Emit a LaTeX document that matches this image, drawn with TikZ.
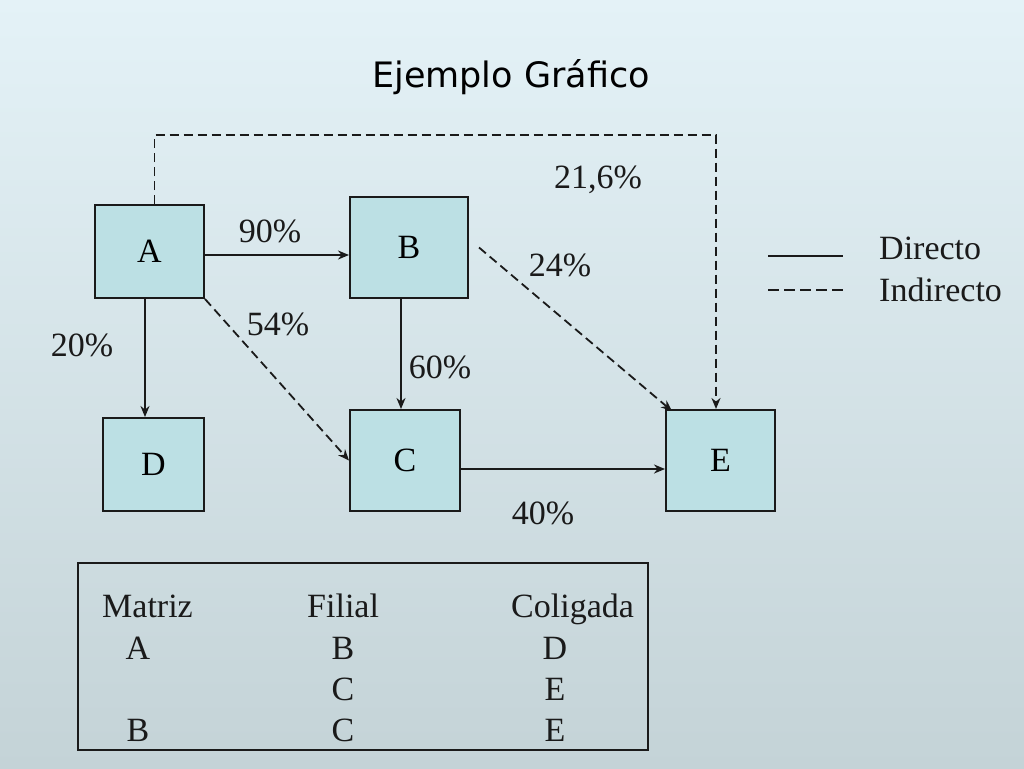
\documentclass[tikz,border=0pt]{standalone}
\usepackage{fontspec}
\setmainfont{Liberation Serif}
\newfontfamily\titlefont{DejaVu Sans}
\usetikzlibrary{arrows.meta}
\definecolor{bgtop}{HTML}{E4F2F7}
\definecolor{bgbot}{HTML}{C4D3D7}
\definecolor{boxfill}{HTML}{BCE0E4}
\definecolor{ink}{HTML}{1A1A1A}
\tikzset{
  ent/.style={draw=ink, line width=2pt, fill=boxfill, inner sep=0pt,
    font=\fontsize{34}{40}\selectfont},
  lbl/.style={inner sep=0pt, font=\fontsize{34}{40}\selectfont, text=ink},
  dirc/.style={draw=ink, line width=1.8pt, -{Stealth[length=11pt,width=9pt,inset=3.5pt]}},
  indc/.style={draw=ink, line width=1.8pt, dash pattern=on 9pt off 5pt, -{Stealth[length=11pt,width=9pt,inset=3.5pt]}},
  legsolid/.style={draw=ink, line width=1.8pt},
  legdash/.style={draw=ink, line width=1.8pt, dash pattern=on 11pt off 5pt},
}
\begin{document}
\begin{tikzpicture}[x=1pt, y=-1pt]
\useasboundingbox (0,0) rectangle (1024,768);
\shade[top color=bgtop, bottom color=bgbot] (0,0) rectangle (1024,768);

% title
\node[inner sep=0pt, font=\titlefont\fontsize{35}{40}\selectfont, text=black] (title) at (511,77) {Ejemplo Gráfico};

% entities
\node[ent, minimum width=109pt, minimum height=93pt] (A) at (149.5,251.5) {A};
\node[ent, minimum width=118pt, minimum height=101pt] (B) at (409,247.5) {B};
\node[ent, minimum width=101pt, minimum height=93pt] (D) at (153.5,464.5) {D};
\node[ent, minimum width=110pt, minimum height=101pt] (C) at (405,460.5) {C};
\node[ent, minimum width=109pt, minimum height=101pt] (E) at (720.5,460.5) {E};

% direct connectors
\draw[dirc] ([yshift=-3.5pt]A.east) -- ([yshift=-3.5pt]A.east -| B.west);
\draw[dirc] ([xshift=-4.5pt]A.south) -- ([xshift=-4.5pt]A.south |- D.north);
\draw[dirc] ([xshift=-8pt]B.south) -- ([xshift=-8pt]B.south |- C.north);
\draw[dirc] ([yshift=-8.5pt]C.east) -- ([yshift=-8.5pt]C.east -| E.west);

% indirect connectors
\draw[indc] (A.south east) -- (C.west);
\draw[indc] ([xshift=10pt]B.east) -- ([xshift=7pt,yshift=-2pt]E.north west);
\coordinate (topleft) at (154.5,135);
\draw[indc] ([xshift=5pt]A.north) -- (topleft) -| ([xshift=-4.5pt]E.north);

% percentage labels
\node[lbl] (p216) at (598,180) {21,6\%};
\node[lbl] (p90) at (270,231) {90\%};
\node[lbl] (p24) at (560,265) {24\%};
\node[lbl] (p54) at (278,324) {54\%};
\node[lbl] (p20) at (82,345) {20\%};
\node[lbl] (p60) at (440,367) {60\%};
\node[lbl] (p40) at (543,513) {40\%};

% legend
\coordinate (l1a) at (768,256);
\coordinate (l1b) at (843,256);
\coordinate (l2a) at (768,290);
\coordinate (l2b) at (846,290);
\draw[legsolid] (l1a) -- (l1b);
\draw[legdash] (l2a) -- (l2b);
\node[lbl, anchor=base west] (ldir) at (879,259) {Directo};
\node[lbl, anchor=base west] (lind) at (879,301) {Indirecto};

% table
\draw[ink, line width=1.8pt] (78,563) rectangle (648,750);
\node[lbl, anchor=base west] (h1) at (102,617) {Matriz};
\node[lbl, anchor=base west] (h2) at (307,617) {Filial};
\node[lbl, anchor=base west] (h3) at (511,617) {Coligada};
\node[lbl] (r1a) at (138,648) {A};
\node[lbl] (r1b) at (343,648) {B};
\node[lbl] (r1c) at (555,648) {D};
\node[lbl] (r2b) at (343,689) {C};
\node[lbl] (r2c) at (555,689) {E};
\node[lbl] (r3a) at (138,730) {B};
\node[lbl] (r3b) at (343,730) {C};
\node[lbl] (r3c) at (555,730) {E};
\end{tikzpicture}
\end{document}
